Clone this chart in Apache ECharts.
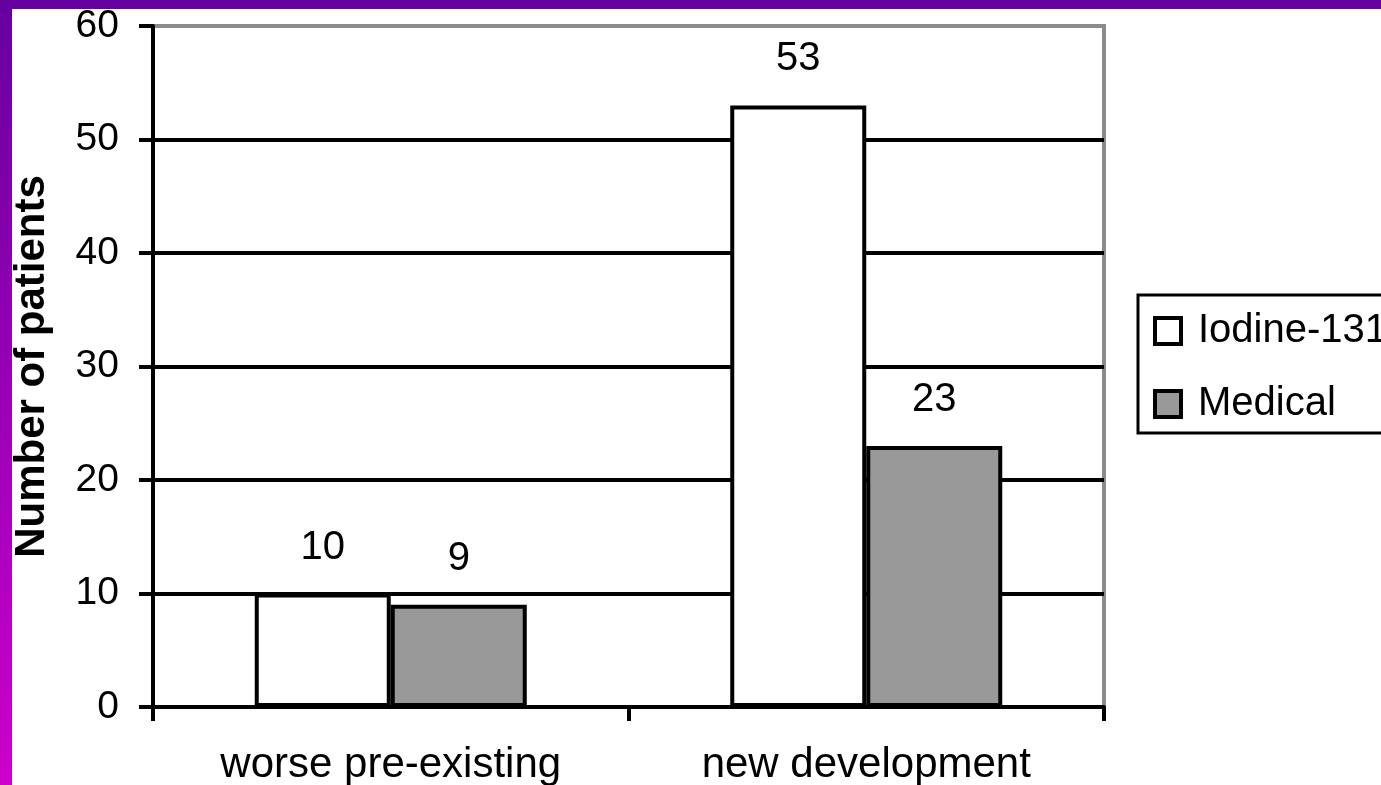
<!DOCTYPE html>
<html>
<head>
<meta charset="utf-8">
<title>Number of patients</title>
<script src="https://cdn.jsdelivr.net/npm/echarts@6/dist/echarts.min.js"></script>
<style>
  html, body { margin: 0; padding: 0; background: #fff; }
  #chart { width: 1381px; height: 785px; }
</style>
</head>
<body>
<div id="chart"></div>
<script>
// Categories and series values
var categories = ['worse pre-existing', 'new development'];
var iodineValues = [10, 53];
var medicalValues = [9, 23];
var seriesNames = ['Iodine-131', 'Medical'];
var yTicks = [0, 10, 20, 30, 40, 50, 60];

var FONT = "'Liberation Sans', Arial, sans-serif";
var chart = echarts.init(document.getElementById('chart'), null, { renderer: 'canvas' });

var labelStyle = {
  show: true,
  position: 'top',
  distance: 26,
  color: '#000',
  fontFamily: FONT,
  fontSize: 40
};

chart.setOption({
  backgroundColor: '#fff',
  animation: false,
  graphic: [
    {
      type: 'rect', left: 0, top: 0, z: 100,
      shape: { width: 1381, height: 9 },
      style: { fill: '#6600a0' }
    },
    {
      type: 'rect', left: 0, top: 0, z: 100,
      shape: { width: 12, height: 785 },
      style: {
        fill: new echarts.graphic.LinearGradient(0, 0, 0, 1, [
          { offset: 0, color: '#6600a0' },
          { offset: 1, color: '#cc00cc' }
        ])
      }
    }
  ],
  grid: {
    left: 153, top: 26, right: 277, bottom: 78,
    outerBoundsMode: 'none',
    containLabel: false,
    show: true,
    borderColor: '#8c8c8c',
    borderWidth: 4,
    backgroundColor: 'transparent'
  },
  legend: {
    orient: 'vertical',
    left: 1138,
    top: 295,
    data: seriesNames,
    icon: 'rect',
    itemWidth: 26,
    itemHeight: 26,
    itemGap: 29,
    padding: [14, 30, 7, 15],
    borderColor: '#000',
    borderWidth: 3,
    backgroundColor: '#fff',
    itemStyle: { borderColor: '#000', borderWidth: 4 },
    textStyle: {
      color: '#000',
      fontFamily: FONT,
      fontSize: 40,
      lineHeight: 44,
      padding: [0, 0, 0, 12]
    }
  },
  xAxis: {
    type: 'category',
    data: categories,
    axisLine: { show: true, lineStyle: { color: '#000', width: 4 } },
    axisTick: { show: true, length: 14, lineStyle: { color: '#000', width: 4 } },
    axisLabel: { color: '#000', fontFamily: FONT, fontSize: 42, margin: 37 },
    splitLine: { show: false }
  },
  yAxis: {
    type: 'value',
    min: yTicks[0],
    max: yTicks[yTicks.length - 1],
    interval: 10,
    name: 'Number of patients',
    nameLocation: 'middle',
    nameGap: 100,
    nameTextStyle: { color: '#000', fontFamily: FONT, fontSize: 42, fontWeight: 'bold' },
    axisLine: { show: true, lineStyle: { color: '#000', width: 4 } },
    axisTick: { show: true, length: 14, lineStyle: { color: '#000', width: 4 } },
    axisLabel: { color: '#000', fontFamily: FONT, fontSize: 39, margin: 34 },
    splitLine: {
      show: true,
      lineStyle: { color: ['#000', '#000', '#000', '#000', '#000', '#000', '#8c8c8c'], width: 4 }
    }
  },
  series: [
    {
      name: seriesNames[0],
      type: 'bar',
      data: iodineValues,
      barWidth: 136,
      barGap: '0%',
      itemStyle: { color: '#fff', borderColor: '#000', borderWidth: 4 },
      label: labelStyle
    },
    {
      name: seriesNames[1],
      type: 'bar',
      data: medicalValues,
      barWidth: 136,
      barGap: '0%',
      itemStyle: { color: '#999999', borderColor: '#000', borderWidth: 4 },
      label: labelStyle
    }
  ]
});
</script>
</body>
</html>
